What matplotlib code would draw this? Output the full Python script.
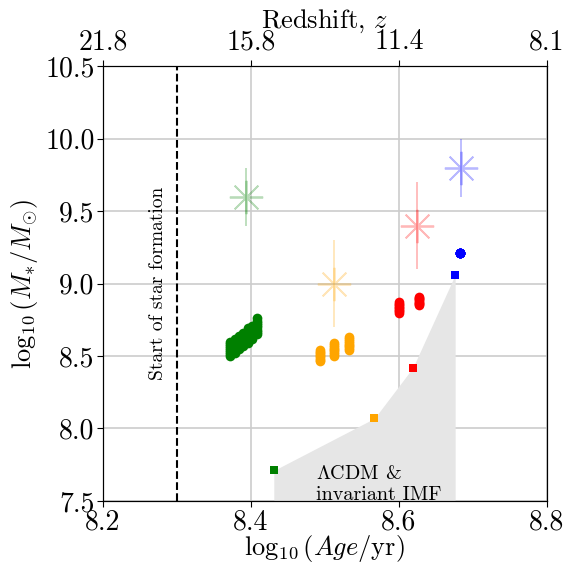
import numpy as np
import matplotlib
matplotlib.use("Agg")
import matplotlib.pyplot as plt

plt.rcParams['font.family'] = 'serif'
plt.rcParams['font.serif'] = ['cmr10', 'DejaVu Serif']
plt.rcParams['mathtext.fontset'] = 'cm'
plt.rcParams['axes.unicode_minus'] = False
plt.rcParams['axes.formatter.use_mathtext'] = True

# posterior samples (age, mass) per galaxy
green_x = [8.372, 8.378, 8.384, 8.390, 8.396, 8.402, 8.408]
green_lo = [8.50, 8.52, 8.55, 8.57, 8.59, 8.62, 8.65]
green_hi = [8.60, 8.62, 8.64, 8.66, 8.69, 8.71, 8.76]

orange_x = [8.494, 8.513, 8.532]
orange_lo = [8.465, 8.50, 8.54]
orange_hi = [8.54, 8.59, 8.63]

red_x = [8.600, 8.627]
red_lo = [8.80, 8.85]
red_hi = [8.87, 8.91]

blue_x = [8.682]
blue_lo = [9.21]
blue_hi = [9.21]

# LCDM limit squares
sq_x = [8.431, 8.567, 8.619, 8.676]
sq_y = [7.71, 8.07, 8.42, 9.06]
sq_c = ['green', 'orange', 'red', 'blue']

# stars with error bars
st_x = [8.393, 8.513, 8.624, 8.684]
st_y = [9.6, 9.0, 9.4, 9.8]
st_err = [0.2, 0.3, 0.3, 0.2]
st_c = ['green', 'orange', 'red', 'blue']

age_ticks = [8.2, 8.4, 8.6, 8.8]
z_labels = ['21.8', '15.8', '11.4', '8.1']

fig = plt.figure(figsize=(5.65, 5.66), dpi=100)
ax = fig.add_axes([0.182, 0.115, 0.786, 0.768])

ax.fill_between(sq_x, sq_y, 7.5, color='#e6e6e6', lw=0, zorder=1)

def column_pts(xs, lo, hi):
    px, py = [], []
    for x, a, b in zip(xs, lo, hi):
        ys = np.linspace(a, b, 8)
        px += [x] * len(ys)
        py += list(ys)
    return px, py

for xs, lo, hi, c in [(green_x, green_lo, green_hi, 'green'),
                      (orange_x, orange_lo, orange_hi, 'orange'),
                      (red_x, red_lo, red_hi, 'red'),
                      (blue_x, blue_lo, blue_hi, 'blue')]:
    px, py = column_pts(xs, lo, hi)
    ax.plot(px, py, 'o', color=c, ms=7, mew=0, zorder=4)

for x, y, c in zip(sq_x, sq_y, sq_c):
    ax.plot(x, y, 's', color=c, ms=6, mew=0, zorder=4)

for x, y, e, c in zip(st_x, st_y, st_err, st_c):
    ax.errorbar(x, y, yerr=e, fmt='none', ecolor=c, elinewidth=1.3, alpha=0.28, zorder=3)
    ax.plot(x, y, marker=(8, 2, 0), color=c, ms=24, mew=1.3, alpha=0.28, zorder=3)

ax.axvline(8.3, color='k', ls='--', lw=1.5, zorder=2)
ax.text(8.274, 9.0, 'Start of star formation', rotation=90, fontsize=14,
        ha='center', va='center')
ax.text(8.488, 7.615, r'$\Lambda$CDM &' + '\n' + 'invariant IMF', fontsize=14.5,
        ha='left', va='center', linespacing=1.25)

ax.set_xlim(8.2, 8.8)
ax.set_ylim(7.5, 10.5)
ax.set_xticks(age_ticks)
ax.set_yticks(np.arange(7.5, 10.6, 0.5))
ax.set_yticklabels(['7.5', '8.0', '8.5', '9.0', '9.5', '10.0', '10.5'])
ax.set_xticklabels(['8.2', '8.4', '8.6', '8.8'])
ax.tick_params(labelsize=20, length=4, pad=2)
ax.grid(True, color='0.8', lw=1.2, zorder=0)
ax.set_axisbelow(True)
ax.set_xlabel(r'$\log_{10}(Age/{\rm yr})$', fontsize=19, labelpad=-2)
ax.set_ylabel(r'$\log_{10}(M_{*}/M_{\odot})$', fontsize=19, labelpad=4)

ax2 = ax.twiny()
ax2.set_xlim(ax.get_xlim())
ax2.set_xticks(age_ticks)
ax2.set_xticklabels(z_labels)
ax2.tick_params(labelsize=20, length=4, pad=4)
ax2.set_xlabel(r'Redshift, $z$', fontsize=19, labelpad=1)

fig.savefig('out.png', dpi=100)
